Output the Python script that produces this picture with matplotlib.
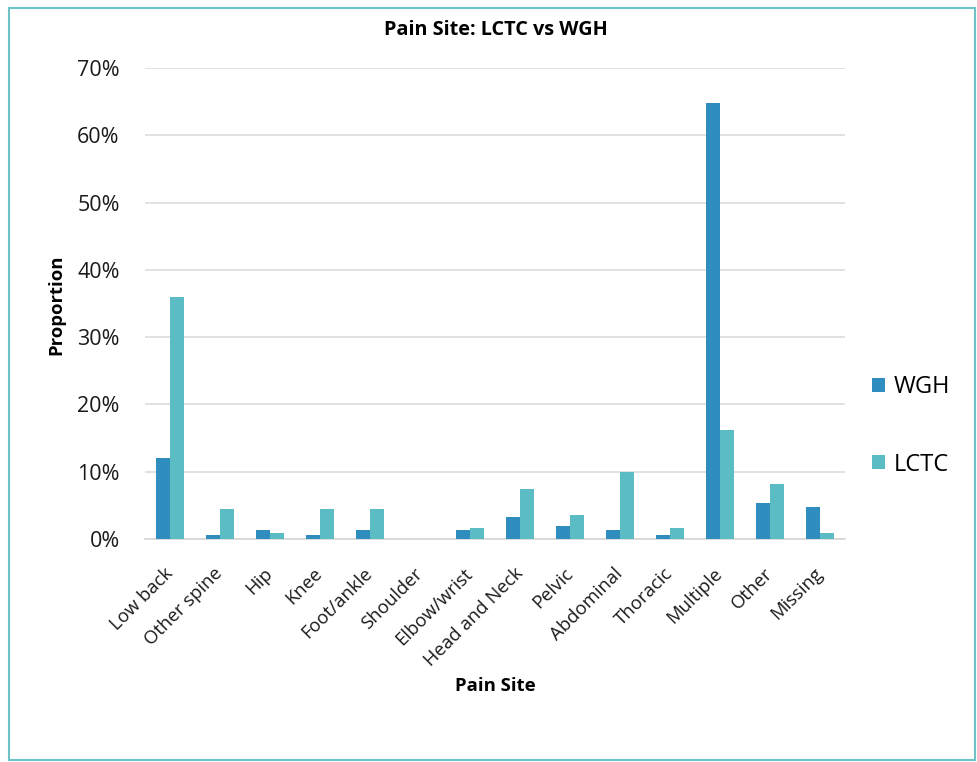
import matplotlib
matplotlib.use("Agg")
import matplotlib.pyplot as plt
import matplotlib.transforms as mtransforms
from matplotlib.patches import Rectangle
import numpy as np

categories = ["Low back", "Other spine", "Hip", "Knee", "Foot/ankle", "Shoulder",
              "Elbow/wrist", "Head and Neck", "Pelvic", "Abdominal", "Thoracic",
              "Multiple", "Other", "Missing"]
wgh = [12.0, 0.6, 1.3, 0.6, 1.3, 0.0, 1.3, 3.3, 2.0, 1.3, 0.6, 64.8, 5.4, 4.7]
lctc = [36.0, 4.5, 0.85, 4.5, 4.5, 0.0, 1.7, 7.4, 3.6, 10.0, 1.7, 16.2, 8.1, 0.85]
yticks = [0, 10, 20, 30, 40, 50, 60, 70]

plt.rcParams['font.family'] = ['Open Sans', 'DejaVu Sans']

fig = plt.figure(figsize=(9.78, 7.62), dpi=100)
ax = fig.add_axes([0.148, 0.2927, 0.716, 0.6181])

x = np.arange(len(categories))
w = 0.28
ax.bar(x - w/2, wgh, width=w, color="#2F8DC0", label="WGH", zorder=3)
ax.bar(x + w/2, lctc, width=w, color="#5BBCC4", label="LCTC", zorder=3)

ax.set_xlim(-0.5, len(categories) - 0.5)
ax.set_ylim(0, 70)
ax.set_yticks(yticks)
ax.set_yticklabels([f"{t}%" for t in yticks], fontsize=15.5, color="#1a1a1a")
ax.set_xticks(x)
ax.set_xticklabels(categories, rotation=45, ha="right", va="center",
                   rotation_mode="anchor", fontsize=13.3, color="#1a1a1a")
offset = mtransforms.ScaledTranslation(0.10, 0, fig.dpi_scale_trans)
for lab in ax.get_xticklabels():
    lab.set_transform(lab.get_transform() + offset)
ax.tick_params(axis="both", length=0)
ax.tick_params(axis="y", pad=18)
ax.tick_params(axis="x", pad=23)
ax.grid(axis="y", color="#DCDCDC", linewidth=1.2, zorder=0)
for s in ["top", "right", "left"]:
    ax.spines[s].set_visible(False)
ax.spines["bottom"].set_color("#D5D5D5")
ax.spines["bottom"].set_linewidth(1.2)

ax.set_ylabel("Proportion", fontsize=13.3, fontweight="bold")
ax.yaxis.set_label_coords(-0.126, 0.497)
ax.yaxis.label.set_va("center")
ax.set_xlabel("Pain Site", fontsize=13.3, fontweight="bold")
ax.xaxis.set_label_coords(0.5, -0.312)
ax.xaxis.label.set_va("center")
fig.text(0.507, 0.961, "Pain Site: LCTC vs WGH", ha="center", va="center",
         fontsize=14.3, fontweight="bold")

fig.legend(loc="center left", bbox_to_anchor=(0.870, 0.441), frameon=False,
           fontsize=17, labelspacing=2.26, handlelength=0.55, handleheight=0.55,
           handletextpad=0.35)

fig.patches.append(Rectangle((0.009, 0.002), 0.988, 0.987, transform=fig.transFigure,
                             fill=False, edgecolor="#6CC3C8", linewidth=1.5))

fig.savefig("out.png", dpi=100)
